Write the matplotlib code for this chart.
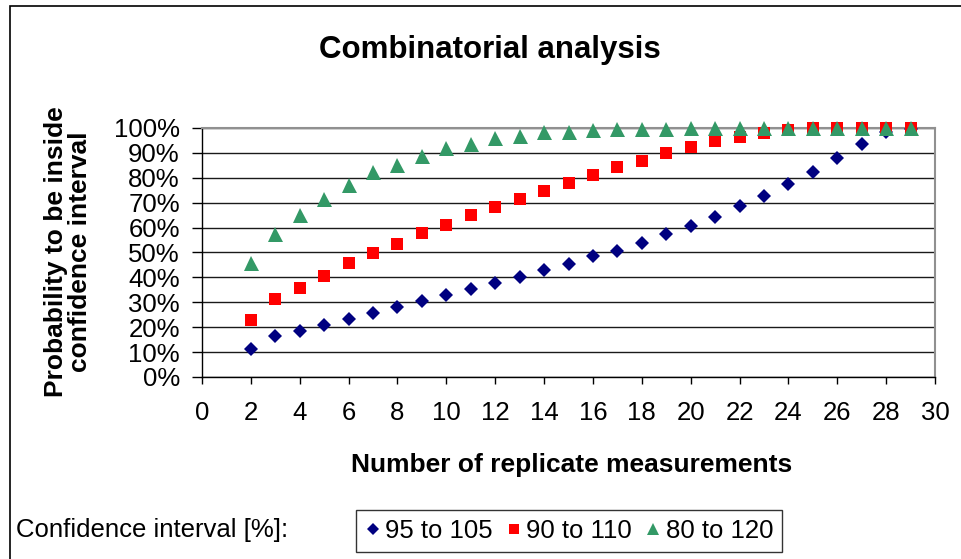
import matplotlib
matplotlib.use('Agg')
import matplotlib.pyplot as plt
from matplotlib.ticker import PercentFormatter
from matplotlib.patches import Rectangle

plt.rcParams['font.family'] = ['Liberation Sans', 'DejaVu Sans']

# replicate measurements
n = list(range(2, 30))
# probability (%) to be inside the confidence interval
p_95_105 = [11.3, 16.3, 18.5, 20.8, 23.4, 25.8, 28.2, 30.6, 33.1, 35.5, 37.9, 40.3, 42.9, 45.3,
            48.5, 50.8, 54.0, 57.3, 60.5, 64.4, 68.5, 72.6, 77.6, 82.3, 87.9, 93.5, 98.3, 99.7]
p_90_110 = [23.0, 31.2, 35.9, 40.7, 45.6, 49.6, 53.6, 57.7, 60.9, 64.9, 68.1, 71.4, 74.6, 77.9,
            81.0, 84.3, 86.7, 89.9, 92.2, 94.9, 96.4, 98.0, 99.3, 99.8, 99.9, 100.0, 100.0, 100.0]
p_80_120 = [45.8, 57.3, 65.2, 71.6, 77.3, 82.3, 85.3, 88.6, 91.8, 93.4, 95.8, 96.6, 98.3, 98.3,
            99.0, 99.5, 99.6, 99.7, 99.8, 99.9, 99.9, 100.0, 100.0, 100.0, 100.0, 100.0, 100.0, 100.0]
labels = ['95 to 105', '90 to 110', '80 to 120']

W, H = 962, 559
fs = 18.5
fig = plt.figure(figsize=(W / 100, H / 100), dpi=100)
# outer chart border (only left / top visible in the original)
fig.patches.append(Rectangle((10 / W, -0.1), 1.2, 1 - 6 / H + 0.1, transform=fig.transFigure,
                             fill=False, edgecolor='black', linewidth=1.2))

ax = fig.add_axes([202 / W, 1 - 377 / H, (935 - 202) / W, (377 - 128) / H])
ax.plot(n, p_95_105, linestyle='none', marker='D', ms=7.3, color='#000080', mew=0, label=labels[0], clip_on=False, zorder=3)
ax.plot(n, p_90_110, linestyle='none', marker='s', ms=9.0, color='#FF0000', mew=0, label=labels[1], clip_on=False, zorder=4)
ax.plot(n, p_80_120, linestyle='none', marker='^', ms=10.8, color='#339966', mew=0, label=labels[2], clip_on=False, zorder=5)

ax.set_xlim(0, 30)
ax.set_ylim(0, 100)
ax.set_xticks(range(0, 31, 2))
ax.set_yticks(range(0, 101, 10))
ax.yaxis.set_major_formatter(PercentFormatter(decimals=0))
ax.grid(axis='y', color='#1a1a1a', linewidth=1.0)
ax.set_axisbelow(True)
ax.tick_params(direction='out', width=1, labelsize=fs)
ax.tick_params(axis='x', length=5, pad=12)
ax.tick_params(axis='y', length=7, pad=9)
for s in ['top', 'right']:
    ax.spines[s].set_color('#909090')
    ax.spines[s].set_linewidth(1.5)
for s in ['left', 'bottom']:
    ax.spines[s].set_linewidth(1.0)

fig.text(490 / W, 1 - 58 / H, 'Combinatorial analysis', fontsize=22.5, fontweight='bold',
         ha='center', va='baseline')
fig.text(572 / W, 1 - 472 / H, 'Number of replicate measurements', fontsize=19, fontweight='bold',
         ha='center', va='baseline')
fig.text(68 / W, 1 - 252 / H, 'Probability to be inside\nconfidence interval', fontsize=19,
         fontweight='bold', rotation=90, ha='center', va='center', linespacing=1.0,
         multialignment='center')

fig.text(16 / W, 1 - 530 / H, 'Confidence interval [%]:', fontsize=fs, va='center', ha='left')
leg = fig.legend(loc='center', bbox_to_anchor=(569 / W, 1 - 531 / H), ncol=3, fontsize=fs,
                 frameon=True, fancybox=False, edgecolor='black', handletextpad=0.2,
                 columnspacing=0.5, handlelength=0.6, borderpad=0.35, markerscale=0.85)
leg.get_frame().set_linewidth(1.0)

fig.savefig('out.png', dpi=100)
